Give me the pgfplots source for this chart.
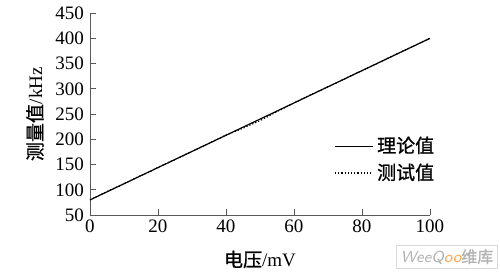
\documentclass[border=0pt]{standalone}
\usepackage{fontspec}
\setmainfont{Liberation Serif}
\newfontfamily\cjk{Noto Sans CJK SC}[FakeBold=1]
\usepackage{pgfplots}
\pgfplotsset{compat=1.18}
\begin{document}
\begin{tikzpicture}
\begin{axis}[
  scale only axis=true,
  width=170pt, height=101pt,
  xmin=0, xmax=100, ymin=50, ymax=450,
  axis lines=left,
  axis line style={gray!70!black, -},
  every tick/.style={gray!70!black},
  tick align=inside,
  major tick length=3pt,
  xtick={0,20,40,60,80,100},
  ytick={50,100,...,450},
  tick label style={font=\fontsize{9.5}{10}\selectfont},
  xticklabel style={yshift=1pt},
  yticklabel style={xshift=0.5pt},
  /pgf/number format/assume math mode=true,
  xlabel={{\cjk 电压}/mV},
  ylabel={{\cjk 测量值}/kHz},
  label style={font=\fontsize{9.5}{10}\selectfont},
  xlabel style={yshift=-2pt},
  ylabel style={yshift=-1pt},
  legend style={draw=none, fill=none, at={(0.70,0.43)}, anchor=north west, font=\fontsize{9.5}{11}\selectfont, row sep=0pt},
  legend cell align=left,
  legend image post style={xscale=1.1},
]
\addplot[black, line width=0.6pt] coordinates {(0,80) (100,400)};
\addlegendentry{\cjk 理论值}
\addplot[black, densely dotted, line width=0.6pt] coordinates {
(0,80) (5,96.5) (10,112) (15,128.5) (17,134) (20,144.5) (25,160) (30,176) (35,192)
(40,208.5) (45,222) (50,237) (52,244) (55,255) (60,272) (65,288.5) (70,304)
(75,320) (78,330) (80,336) (85,352) (90,368.5) (95,384) (100,400)};
\addlegendentry{\cjk 测试值}
\end{axis}
\node[draw=gray!30, fill=white, inner sep=2pt, font=\fontsize{8}{9}\selectfont, text=gray!60] at (178.5pt,-21pt) {\textit{\sffamily WeeQ{\color{orange!70}oo}}{\cjk 维库}};
\path[use as bounding box] (-45pt,-28.5pt) rectangle (205pt,106.5pt);
\end{tikzpicture}
\end{document}
